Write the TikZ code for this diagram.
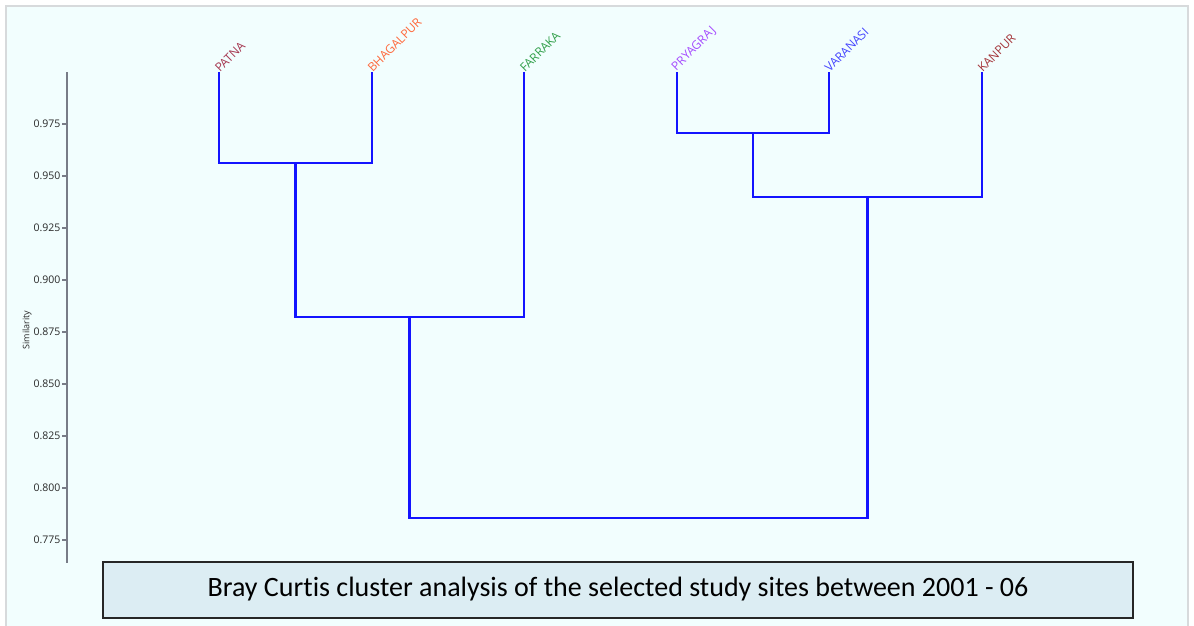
\documentclass[tikz,border=0pt]{standalone}
\usepackage{fontspec}
\setmainfont{Open Sans}
\newfontfamily\capfont[Ligatures={NoCommon}]{Carlito}
\definecolor{bgc}{RGB}{242,254,254}
\definecolor{framec}{RGB}{215,218,220}
\definecolor{axisc}{RGB}{120,124,135}
\definecolor{capfill}{RGB}{220,237,243}
\definecolor{cpatna}{RGB}{165,55,80}
\definecolor{cbhag}{RGB}{255,105,60}
\definecolor{cfar}{RGB}{50,160,75}
\definecolor{cpry}{RGB}{165,75,255}
\definecolor{cvar}{RGB}{70,70,255}
\definecolor{ckan}{RGB}{165,55,60}
\begin{document}
\begin{tikzpicture}[x=1pt,y=-1pt,
  link/.style={draw={rgb,255:red,20;green,20;blue,255},line width=2.2pt},
  leaflab/.style={rotate=45,anchor=south west,inner sep=0pt,font=\fontsize{12}{14}\selectfont},
  ticklab/.style={anchor=east,inner sep=0pt,font=\fontsize{10.5}{12}\selectfont,text={rgb,255:red,40;green,40;blue,40}},
  axisline/.style={draw=axisc,line width=1.6pt}]
\useasboundingbox (0,0) rectangle (1194,625);
\fill[white] (0,0) rectangle (1194,625);
\filldraw[fill=bgc,draw=framec,line width=1.5pt] (6,6) rectangle (1188,640);
% axis
\coordinate (atop) at (67,72);
\coordinate (abot) at (67,563);
\draw[axisline] (atop) -- (abot);
\foreach \v/\yy in {0.975/124,0.950/176,0.925/228,0.900/280,0.875/332,0.850/384,0.825/436,0.800/488,0.775/540}{
  \coordinate (t\yy) at (67,\yy);
  \draw[axisline,line width=1.2pt] (t\yy) -- ++(-5,0) node[ticklab,xshift=-1pt] {\v};
}
\node[rotate=90,font=\fontsize{9}{10}\selectfont,text={rgb,255:red,40;green,40;blue,40}] (ylab) at (27,330) {Similarity};
% leaves
\coordinate (patna) at (219,72);
\coordinate (bhag) at (372,72);
\coordinate (far) at (524,72);
\coordinate (pry) at (677,72);
\coordinate (var) at (829,72);
\coordinate (kan) at (982,72);
% merges
\coordinate (m1) at (295.5,163);
\coordinate (m2) at (753,133);
\coordinate (m3) at (867.5,197);
\coordinate (m4) at (409.5,317);
\coordinate (m5) at (638.5,518);
\draw[link] (patna) |- (m1) -| (bhag);
\draw[link] (pry) |- (m2) -| (var);
\draw[link] (m2) |- (m3) -| (kan);
\draw[link] (m1) |- (m4) -| (far);
\draw[link] (m4) |- (m5) -| (m3);
% labels
\node[leaflab,text=cpatna] (lpatna) at ([xshift=1pt,yshift=-1pt]patna) {PATNA};
\node[leaflab,text=cbhag] (lbhag) at ([xshift=1pt,yshift=-1pt]bhag) {BHAGALPUR};
\node[leaflab,text=cfar] (lfar) at ([xshift=1pt,yshift=-1pt]far) {FARRAKA};
\node[leaflab,text=cpry] (lpry) at ([xshift=1pt,yshift=-1pt]pry) {PRYAGRAJ};
\node[leaflab,text=cvar] (lvar) at ([xshift=1pt,yshift=-1pt]var) {VARANASI};
\node[leaflab,text=ckan] (lkan) at ([xshift=1pt,yshift=-1pt]kan) {KANPUR};
% caption
\draw[fill=capfill,draw=black!85,line width=1.6pt] (103,562) rectangle (1133,618);
\node[font=\capfont\fontsize{28}{32}\selectfont] (cap) at (618,589) {Bray Curtis cluster analysis of the selected study sites between 2001 - 06};
\end{tikzpicture}
\end{document}
